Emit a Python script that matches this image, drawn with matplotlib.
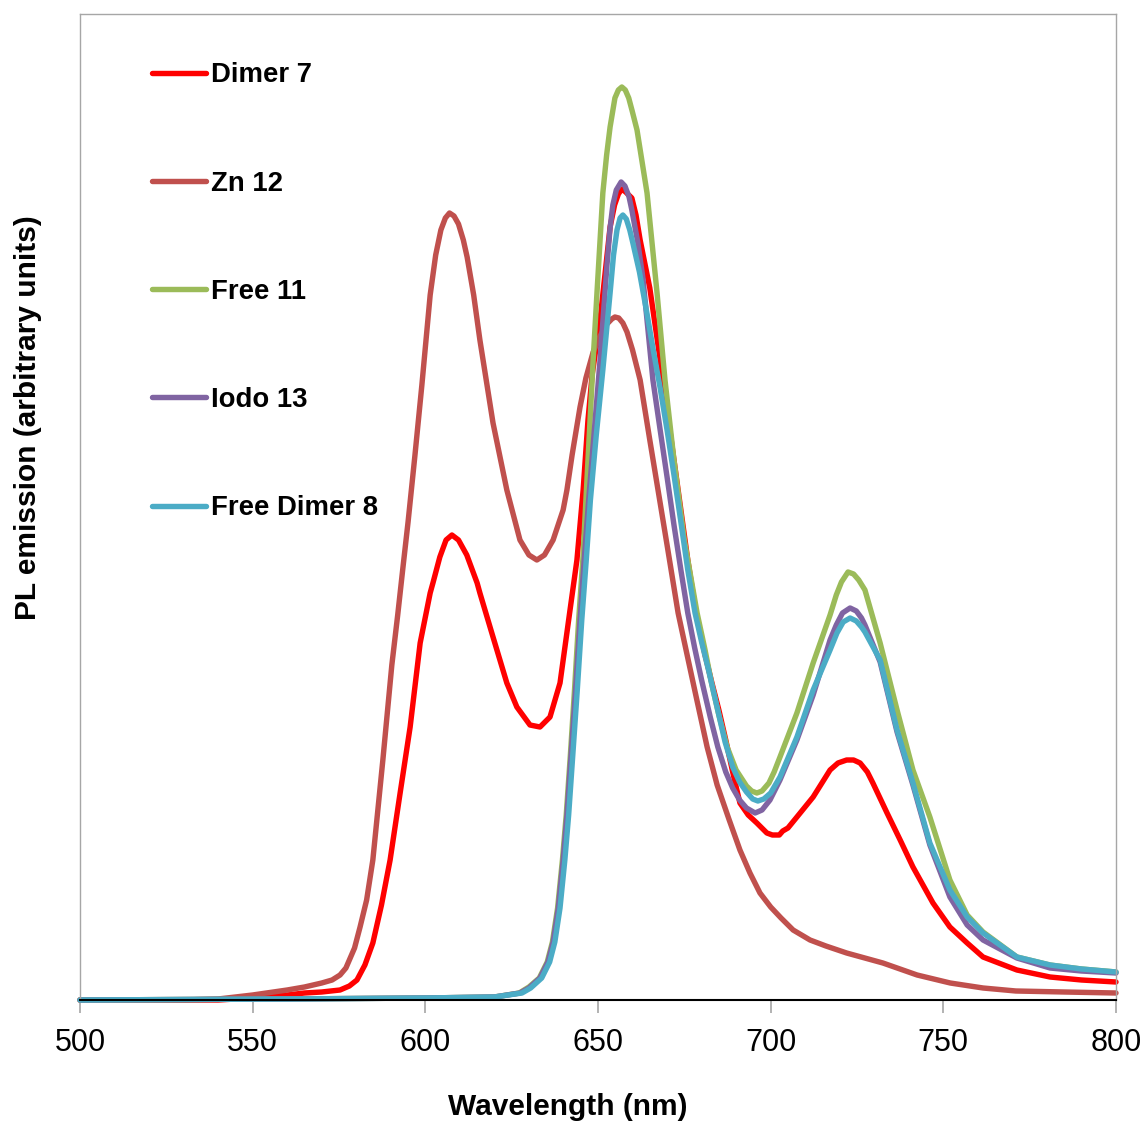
import matplotlib
matplotlib.use("Agg")
import matplotlib.pyplot as plt

plt.rcParams['font.family'] = ['Liberation Sans', 'DejaVu Sans']

# ---------------- data ----------------
labels = ["Dimer 7", "Zn 12", "Free 11", "Iodo 13", "Free Dimer 8"]
colors = ["#FF0000", "#C0504D", "#9BBB59", "#8064A2", "#4BACC6"]

dimer7_x = [500, 540, 550, 560, 565, 570, 575.3, 578, 580.2, 582.5, 584.8, 587.3, 589.8, 592.7,
            595.6, 598.5, 601.4, 602.2, 604.2, 606, 607.7, 609.6, 612, 615, 615.8, 619.6,
            623.6, 626.5, 630.3, 633.2, 636.1, 639, 641.9, 643.9, 645.7, 647.1, 648.3, 650.6,
            653.5, 654.8, 655.9, 656.9, 658, 659.8, 661, 662.2, 665, 668, 670, 672, 674, 676,
            678.4, 681, 683, 685, 687, 689, 691.1, 693.5, 696, 698.9, 700.5, 702.5, 703.5, 705,
            707.6, 712.3, 717.2, 719.5, 722, 724, 725.9, 728, 729.6, 733.7, 737.5, 741.2, 747,
            751.9, 756.9, 761.5, 771.3, 780.9, 790, 800]
dimer7_y = [0, 0, 2, 5, 7, 8, 10, 14, 20, 35, 57, 95, 140, 207,
            273, 357, 407, 417, 443, 460, 465, 460, 445, 417, 407, 363,
            317, 293, 275, 273, 283, 317, 390, 440, 510, 580, 625, 680,
            773, 795, 806, 811, 808, 802, 785, 760, 712, 640, 590, 540, 490, 440,
            387, 345, 317, 290, 260, 228, 197, 185, 177, 167, 165, 165, 169, 172,
            183, 203, 230, 237, 240, 240, 237, 228, 217, 187, 160, 133, 97,
            73, 57, 43, 30, 23, 20, 18]

zn12_x = [500, 530, 540, 550, 560, 565, 570, 573, 575.3, 577, 579.5, 581.1, 583, 584.8, 587.7,
          590.3, 592, 593.5, 595, 597, 599, 601.4, 603, 604.5, 605.8, 607, 608.3, 609.6, 611,
          612.1, 614, 615.8, 619.6, 623.6, 627.4, 630, 632.3, 634.5, 637, 639.9, 641, 642.5,
          644.8, 646.5, 648.6, 650.6, 652.6, 654, 654.9, 656, 657.2, 658.4, 660, 662.2, 665,
          668, 670, 673.2, 676, 678.5, 681.6, 684.5, 688, 691.1, 694, 696.9, 700, 703, 706.5,
          711.4, 716, 722, 732.5, 742.4, 752, 761.5, 771, 785, 800]
zn12_y = [0, 0, 1, 5, 10, 13, 17, 20, 25, 32, 52, 73, 100, 140, 240,
          335, 385, 432, 478, 545, 615, 705, 745, 770, 782, 787, 784, 776, 760,
          743, 705, 660, 577, 510, 460, 445, 440, 445, 460, 490, 510, 545,
          593, 622, 648, 664, 676, 681, 683, 682, 677, 668, 650, 620, 560,
          497, 455, 387, 342, 302, 253, 215, 180, 150, 127, 107, 93, 82, 70,
          60, 54, 47, 37, 25, 17, 12, 9, 8, 7]

free11_x = [500, 560, 600, 620, 627.2, 630, 633, 635.3, 636.8, 638.3, 639.7, 640.8, 642, 643.2,
            644.4, 645.6, 647.1, 648.6, 649.7, 651.4, 652.5, 653.5, 654.9, 655.9, 656.9, 657.9,
            658.9, 659.9, 661.3, 664.2, 667.1, 669.4, 672, 675, 678.7, 681, 683, 685, 687.4,
            690, 693, 694.5, 696, 697.5, 699.5, 701, 702.7, 707.6, 712.3, 717.2, 719, 720.5,
            722.4, 724, 725.5, 727.3, 731.7, 736.6, 741.2, 746.1, 751.9, 756.9, 761.5, 771.3,
            780.9, 790, 800]
free11_y = [0, 1, 2, 3, 7, 13, 22, 38, 58, 92, 140, 185, 245, 310,
            380, 440, 540, 640, 707, 807, 845, 873, 902, 910, 913, 910,
            902, 889, 870, 807, 707, 620, 540, 460, 387, 350, 315, 285, 253,
            230, 214, 209, 207, 209, 217, 228, 243, 287, 337, 385, 405, 418,
            428, 426, 420, 410, 357, 290, 230, 183, 120, 85, 68, 43,
            35, 31, 28]

iodo13_x = [500, 560, 600, 620, 627.4, 630, 633.2, 635.5, 637, 638.5, 639.9, 641, 642.2, 643.5,
            644.8, 646, 647.3, 648.6, 650.6, 652.6, 653.5, 654.3, 655.3, 656.7, 657.8, 659,
            659.8, 661.5, 663, 665.9, 668, 670, 672, 674, 676, 678, 680, 682.5, 684.7, 687,
            689, 691, 693, 695.5, 697.5, 699.8, 702.7, 707.6, 712.3, 717.2, 719, 720.8, 723,
            724.8, 726.3, 727.3, 731.7, 736.6, 741.2, 746.1, 751.9, 756.9, 761.5, 771.3, 780.9,
            790, 800]
iodo13_y = [0, 1, 2, 3, 7, 12, 22, 38, 58, 92, 140, 185, 245, 310,
            380, 440, 500, 555, 640, 735, 772, 795, 810, 818, 814, 803,
            790, 758, 722, 620, 570, 523, 475, 430, 387, 352, 320, 283, 253, 228,
            212, 200, 192, 187, 190, 200, 220, 260, 305, 360, 375, 387, 392,
            389, 382, 375, 338, 268, 215, 155, 103, 75, 60, 42, 32,
            29, 27]

fdimer8_x = [500, 560, 600, 620, 628, 630.5, 633.7, 636, 637.5, 639, 640.4, 641.5, 642.7, 644,
             645.3, 646.6, 647.8, 649.5, 651.4, 653.5, 654.5, 655.5, 656.4, 657.2, 658.2, 659.2,
             660.1, 662, 664, 666, 668, 670, 672, 674, 676, 678.1, 680, 682, 684, 686.8, 689,
             691, 693, 694.8, 696.3, 698, 700, 702.7, 707.6, 712.3, 717.2, 719.2, 721, 723,
             724.8, 726.3, 727.3, 731.7, 736.6, 741.2, 746.1, 751.9, 756.9, 761.5, 771.3, 780.9,
             790, 800]
fdimer8_y = [0, 1, 2, 3, 7, 12, 22, 38, 58, 92, 140, 185, 245, 310,
             380, 440, 500, 565, 630, 707, 745, 770, 782, 785, 781, 770,
             757, 728, 690, 650, 612, 570, 525, 478, 430, 387, 358, 330, 300, 258, 233,
             218, 208, 201, 199, 201, 207, 223, 263, 310, 350, 367, 378, 382,
             379, 373, 368, 340, 270, 217, 157, 110, 83, 67, 43, 35,
             31, 28]

xticks = [500, 550, 600, 650, 700, 750, 800]

series_x = [dimer7_x, zn12_x, free11_x, iodo13_x, fdimer8_x]
series_y = [dimer7_y, zn12_y, free11_y, iodo13_y, fdimer8_y]

# ---------------- figure ----------------
fig = plt.figure(figsize=(11.46, 11.22), dpi=100)
ax = fig.add_axes([80 / 1146, 122 / 1122, 1036 / 1146, 986 / 1122])

for xs, ys, c, lab in zip(series_x, series_y, colors, labels):
    ax.plot(xs, ys, color=c, lw=3.9, label=lab, solid_capstyle='round',
            solid_joinstyle='round', clip_on=False)

ax.set_xlim(500, 800)
ax.set_ylim(0, 986)
ax.set_xticks(xticks)
ax.set_xticklabels([str(t) for t in xticks])
ax.set_yticks([])

for s in ['left', 'top', 'right']:
    ax.spines[s].set_color('#A6A6A6')
    ax.spines[s].set_linewidth(1.0)
ax.spines['bottom'].set_color('black')
ax.spines['bottom'].set_linewidth(1.5)

ax.tick_params(axis='x', direction='out', length=9, width=1.2, color='#A6A6A6',
               labelsize=22, pad=11, labelcolor='black')

ax.set_xlabel("Wavelength (nm)", fontsize=21.5, fontweight='bold')
ax.xaxis.set_label_coords((568 - 80) / 1036, (1000 - 1093) / 986)
ax.set_ylabel("PL emission (arbitrary units)", fontsize=21.5, fontweight='bold')
ax.yaxis.set_label_coords((42 - 80) / 1036, (1000 - 418) / 986)

leg = ax.legend(loc='upper left', bbox_to_anchor=(0.0695, 0.951), frameon=False,
                prop={'weight': 'bold', 'size': 19.8},
                handlelength=1.95, handletextpad=0.18, labelspacing=2.99,
                borderpad=0, borderaxespad=0)
for h in leg.get_lines():
    h.set_linewidth(3.9)

fig.savefig("out.png", dpi=100)
